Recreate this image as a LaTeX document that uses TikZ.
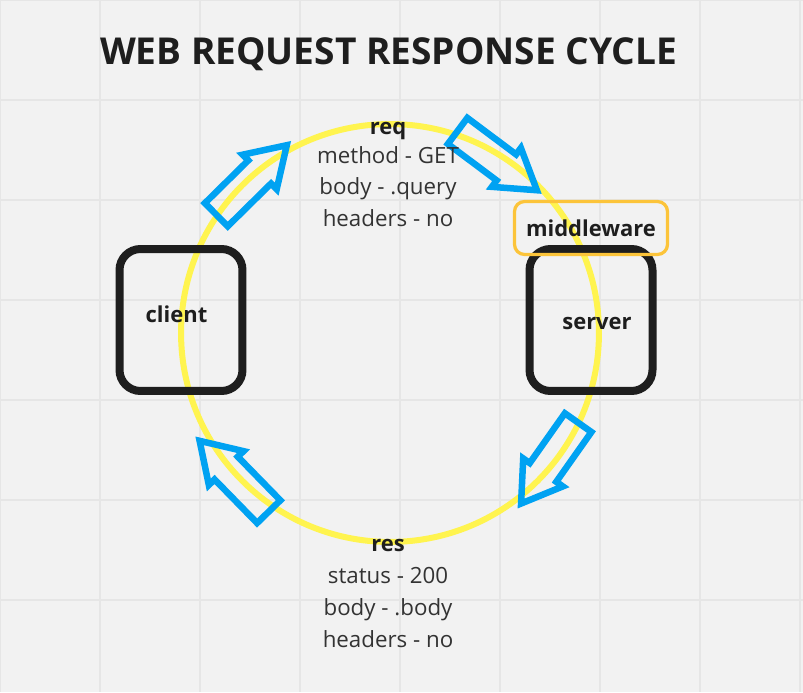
\documentclass[tikz,border=0pt]{standalone}
\usepackage{fontspec}
\setmainfont{Open Sans}
\usetikzlibrary{shapes.arrows, positioning}
\definecolor{canvas}{HTML}{F2F2F2}
\definecolor{gridline}{HTML}{E6E6E6}
\definecolor{cycle}{HTML}{FFF44F}
\definecolor{flowblue}{HTML}{00A2F2}
\definecolor{amber}{HTML}{FCC43A}
\definecolor{ink}{HTML}{1E1E1E}
\definecolor{prose}{HTML}{333333}
\tikzset{
  % End point boxes
  endpoint/.style={
    rectangle, draw=ink, line width=0.16cm, rounded corners=0.42cm,
    minimum width=2.46cm, minimum height=2.84cm
  },
  % Middleware tag
  tagbox/.style={
    rectangle, draw=amber, line width=0.065cm, rounded corners=0.2cm,
    minimum width=3.06cm, minimum height=1.06cm, inner sep=0pt,
    font=\fontsize{12.5pt}{15pt}\selectfont\bfseries, text=ink
  },
  % Hollow block arrows
  flowarrow/.style={
    single arrow, draw=flowblue, line width=0.13cm, fill=none,
    minimum height=1.98cm, minimum width=0.84cm,
    single arrow head extend=0.16cm, single arrow tip angle=65,
    inner xsep=0pt, inner ysep=0.26cm, miter limit=6, anchor=tail
  },
  % Labels
  boldlabel/.style={font=\fontsize{12.5pt}{15pt}\selectfont\bfseries, text=ink, anchor=base, inner sep=0pt},
  fieldtext/.style={font=\fontsize{12.7pt}{15pt}\selectfont, text=prose, anchor=base, inner sep=0pt},
  heading/.style={font=\fontsize{21.1pt}{24pt}\selectfont\bfseries, text=ink, anchor=base, inner sep=0pt},
}

\begin{document}
\begin{tikzpicture}[x=0.02cm, y=-0.02cm]
  \useasboundingbox (0,0) rectangle (803,692);
  \fill[canvas] (0,0) rectangle (803,692);
  \foreach \g in {0,100,...,800} \draw[gridline, line width=0.03cm] (\g,0) -- (\g,692);
  \foreach \g in {0,100,...,600} \draw[gridline, line width=0.03cm] (0,\g) -- (803,\g);

  \node[heading] (title) at (388.5,65) {WEB REQUEST RESPONSE CYCLE};

  % the cycle
  \coordinate (hub) at (390,333);
  \draw[cycle, line width=0.12cm] (hub) circle[radius=4.18cm];

  \node[endpoint] (client) at (181,320) {};
  \node[endpoint] (server) at (591,320) {};
  \node[tagbox] (middleware) at (591,228) {middleware};
  \node[boldlabel] (clientname) at (176.5,322) {client};
  \node[boldlabel] (servername) at (597,329) {server};

  % arrows round the cycle, placed by their tails
  \node[flowarrow, rotate=44.6] (leave) at (214,217) {};
  \node[flowarrow, rotate=-36.8] (arrive) at (455,129) {};
  \node[flowarrow, rotate=-125.2] (reply) at (580,420) {};
  \node[flowarrow, rotate=134.3] (back) at (271,514) {};

  % request
  \node[boldlabel] (req) at (388,135) {req};
  \foreach \txt [count=\i] in {method - GET, body - .query, headers - no}
    \node[fieldtext] (req\i) at (388,132+31.5*\i) {\txt};

  % response
  \node[boldlabel] (res) at (388,551) {res};
  \foreach \txt [count=\i] in {status - 200, body - .body, headers - no}
    \node[fieldtext] (res\i) at (388,551+32*\i) {\txt};
\end{tikzpicture}
\end{document}
